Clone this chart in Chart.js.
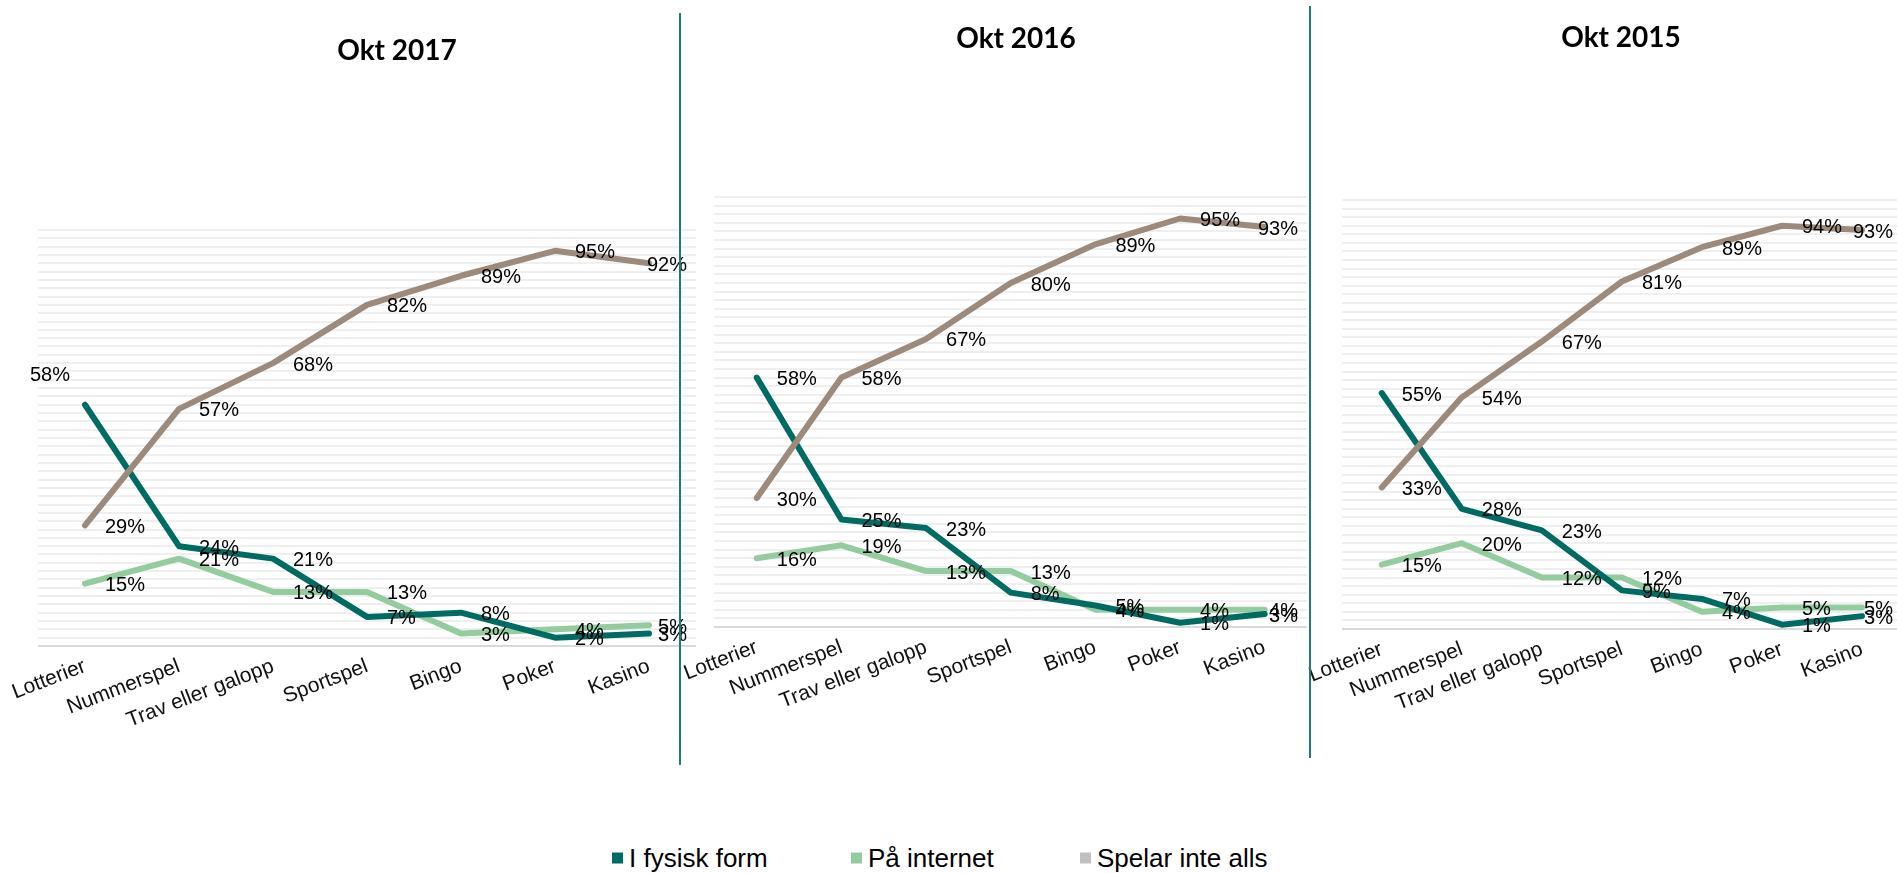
<!DOCTYPE html>
<html lang="sv">
<head>
<meta charset="utf-8">
<title>Spelformer Okt 2015-2017</title>
<script src="https://cdn.jsdelivr.net/npm/chart.js@4.4.1/dist/chart.umd.min.js"></script>
<style>
    html, body {
        margin: 0;
        padding: 0;
        width: 1897px;
        height: 873px;
        overflow: hidden;
        background: #ffffff;
        font-family: "Liberation Sans", Arial, sans-serif;
    }
    .panel {
        position: absolute;
        top: 0;
    }
    .panel-title {
        position: absolute;
        transform: translate(-50%, -50%);
        font-family: Lato, "Open Sans", sans-serif;
        font-weight: 700;
        font-size: 28px;
        color: #000;
        white-space: nowrap;
    }
    .divider {
        position: absolute;
        width: 2px;
        background: #1f7b74;
    }
    .legend-item {
        position: absolute;
        top: 858px;
        transform: translateY(-50%);
        display: flex;
        align-items: center;
        font-size: 26px;
        color: #000;
        white-space: nowrap;
    }
    .legend-item .swatch {
        width: 11px;
        height: 11px;
        margin-right: 6px;
    }
</style>
</head>
<body>

<canvas id="chart2017" class="panel"></canvas>
<canvas id="chart2016" class="panel"></canvas>
<canvas id="chart2015" class="panel"></canvas>

<div class="divider" style="left:679px; top:13px; height:752px;"></div>
<div class="divider" style="left:1309px; top:6px; height:752px;"></div>

<div class="panel-title" style="left:397px; top:49px;">Okt 2017</div>
<div class="panel-title" style="left:1016px; top:37px;">Okt 2016</div>
<div class="panel-title" style="left:1621px; top:36px;">Okt 2015</div>

<div class="legend-item" style="left:612px;"><span class="swatch" style="background:#006b63"></span>I fysisk form</div>
<div class="legend-item" style="left:851px;"><span class="swatch" style="background:#94cc9f"></span>På internet</div>
<div class="legend-item" style="left:1080px;"><span class="swatch" style="background:#c0c0c0"></span>Spelar inte alls</div>

<script>
// Data (percent)
const categories = ['Lotterier', 'Nummerspel', 'Trav eller galopp', 'Sportspel', 'Bingo', 'Poker', 'Kasino'];
const seriesNames = ['I fysisk form', 'På internet', 'Spelar inte alls'];

const fysisk2017 = [58, 24, 21, 7, 8, 2, 3];
const internet2017 = [15, 21, 13, 13, 3, 4, 5];
const inteAlls2017 = [29, 57, 68, 82, 89, 95, 92];

const fysisk2016 = [58, 25, 23, 8, 5, 1, 3];
const internet2016 = [16, 19, 13, 13, 4, 4, 4];
const inteAlls2016 = [30, 58, 67, 80, 89, 95, 93];

const fysisk2015 = [55, 28, 23, 9, 7, 1, 3];
const internet2015 = [15, 20, 12, 12, 4, 5, 5];
const inteAlls2015 = [33, 54, 67, 81, 89, 94, 93];

const yTicks = { min: 0, max: 100, step: 2 };

// Colours
const colors = {
    fysisk: '#006b63',
    internet: '#94cc9f',
    inteAlls: '#9c8b7d',
    grid: '#efefef',
    baseline: '#d9d9d9'
};

const labelFont = '20px "Liberation Sans", Arial, sans-serif';

// Draws "NN%" to the right of each point, like Excel's data labels
const pointLabels = {
    id: 'pointLabels',
    afterDatasetsDraw(chart, args, opts) {
        const ctx = chart.ctx;
        const area = chart.chartArea;
        ctx.save();
        ctx.font = labelFont;
        ctx.fillStyle = '#000';
        ctx.textBaseline = 'middle';
        ctx.textAlign = 'left';

        chart.data.datasets.forEach((ds, di) => {
            const meta = chart.getDatasetMeta(di);
            meta.data.forEach((pt, i) => {
                const text = ds.data[i] + '%';
                const w = ctx.measureText(text).width;
                let x = Math.min(pt.x + opts.gap, area.right - opts.edge - w);
                let y = pt.y + 2;
                // a label that was moved up and to the left by hand
                const above = (opts.above || []).some(a => a[0] === di && a[1] === i);
                if (above) {
                    x = pt.x - 35 - w / 2;
                    y = pt.y - 29;
                }
                ctx.fillText(text, x, y);
            });
        });
        ctx.restore();
    }
};

document.addEventListener('DOMContentLoaded', function() {
    Chart.defaults.font.family = '"Liberation Sans", Arial, sans-serif';

    // left/width/height of each canvas, plus where the plot area sits inside it
    createPanel('chart2017', { left: 0, width: 700, height: 800, top: 230, bottom: 646, padLeft: 38 },
        fysisk2017, internet2017, inteAlls2017, [[0, 0]]);
    createPanel('chart2016', { left: 674, width: 637, height: 800, top: 197, bottom: 627, padLeft: 40 },
        fysisk2016, internet2016, inteAlls2016, []);
    createPanel('chart2015', { left: 1299, width: 607, height: 800, top: 200, bottom: 629, padLeft: 40 },
        fysisk2015, internet2015, inteAlls2015, []);
});

function createPanel(id, box, fysisk, internet, inteAlls, labelsAbove) {
    const canvas = document.getElementById(id);
    canvas.width = box.width;
    canvas.height = box.height;
    canvas.style.left = box.left + 'px';
    canvas.style.width = box.width + 'px';
    canvas.style.height = box.height + 'px';

    const lineStyle = {
        borderWidth: 6,
        pointRadius: 0,
        tension: 0,
        fill: false,
        borderCapStyle: 'round',
        borderJoinStyle: 'round'
    };

    new Chart(canvas, {
        type: 'line',
        data: {
            labels: categories,
            datasets: [
                Object.assign({ label: seriesNames[0], data: fysisk, borderColor: colors.fysisk, order: 1 }, lineStyle),
                Object.assign({ label: seriesNames[1], data: internet, borderColor: colors.internet, order: 2 }, lineStyle),
                Object.assign({ label: seriesNames[2], data: inteAlls, borderColor: colors.inteAlls, order: 0 }, lineStyle)
            ]
        },
        options: {
            responsive: false,
            animation: false,
            devicePixelRatio: 1,
            layout: {
                padding: { left: box.padLeft, right: 4, top: box.top, bottom: 0 }
            },
            plugins: {
                legend: { display: false },
                tooltip: { enabled: false },
                pointLabels: { gap: 20, edge: 9, above: labelsAbove }
            },
            scales: {
                x: {
                    offset: true,
                    grid: { display: false, drawTicks: false },
                    border: { display: false },
                    ticks: {
                        autoSkip: false,
                        minRotation: 21,
                        maxRotation: 21,
                        padding: 8,
                        color: '#111',
                        font: { size: 21 }
                    },
                    afterFit: (scale) => { scale.height = box.height - box.bottom; }
                },
                y: {
                    min: yTicks.min,
                    max: yTicks.max,
                    ticks: { display: false, stepSize: yTicks.step },
                    border: { display: false },
                    grid: {
                        drawTicks: false,
                        lineWidth: 2,
                        color: (ctx) => ctx.tick && ctx.tick.value === 0 ? colors.baseline : colors.grid
                    },
                    afterFit: (scale) => { scale.width = 0; }
                }
            }
        },
        plugins: [pointLabels]
    });
}
</script>
</body>
</html>
